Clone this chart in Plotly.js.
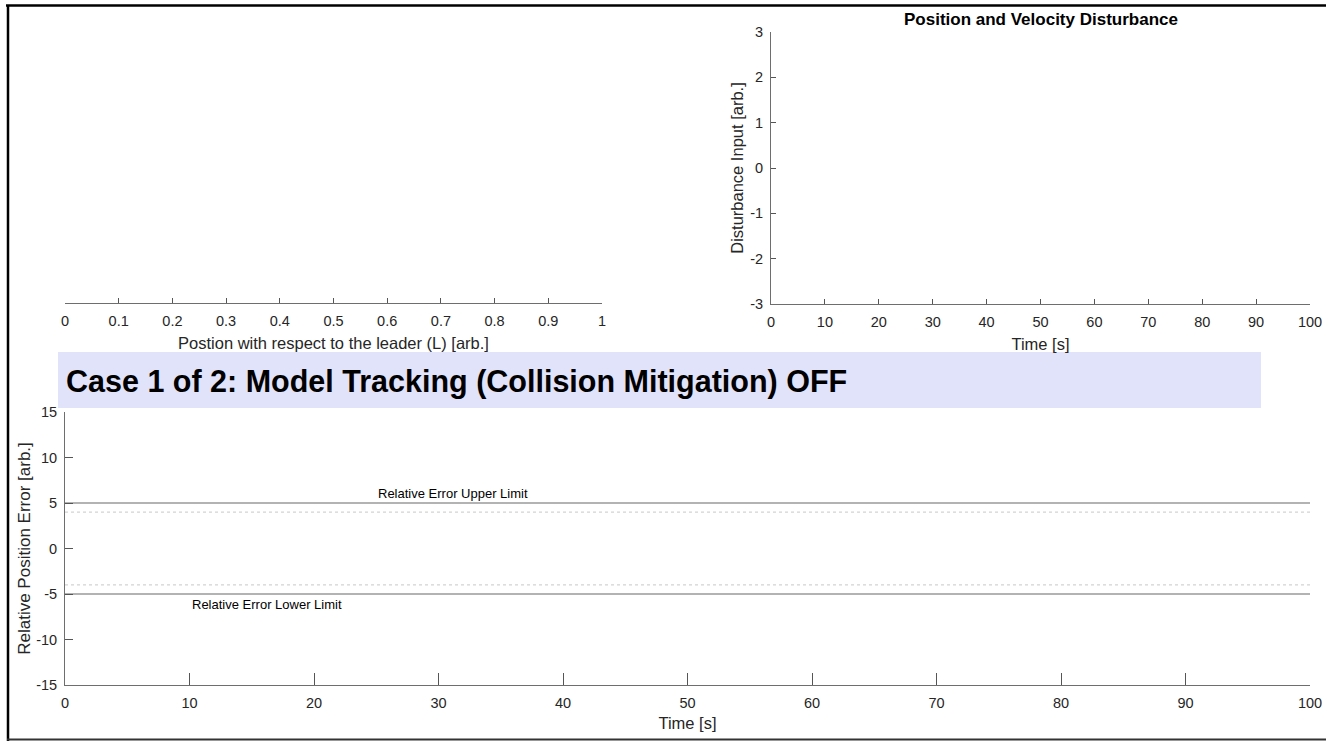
<!DOCTYPE html>
<html>
<head>
<meta charset="utf-8">
<script src="https://cdn.plot.ly/plotly-3.0.1.min.js"></script>
<style>html,body{margin:0;padding:0;background:#fff;}#chart{width:1326px;height:741px;}</style>
</head>
<body>
<div id="chart"></div>
<script>
// ---- data ----
const timeLimits = [0, 100];
const upperLimit = [5, 5];
const lowerLimit = [-5, -5];
const upperWarn = [4, 4];
const lowerWarn = [-4, -4];
const positionTicks = [0, 0.1, 0.2, 0.3, 0.4, 0.5, 0.6, 0.7, 0.8, 0.9, 1];
const timeTicks = [0, 10, 20, 30, 40, 50, 60, 70, 80, 90, 100];
const disturbanceTicks = [-3, -2, -1, 0, 1, 2, 3];
const errorTicks = [-15, -10, -5, 0, 5, 10, 15];

const W = 1326, H = 741;
const px = v => v / W;
const py = v => 1 - v / H;

const FONT = 'Liberation Sans, Arial, Helvetica, sans-serif';
const AX = '#6e6e6e';
const TXT = '#262626';
const TICKF = {family: FONT, size: 14.5, color: TXT};
const TITLEF = {family: FONT, size: 16.5, color: TXT};

const traces = [
  {x: [], y: [], xaxis: 'x', yaxis: 'y', type: 'scatter', mode: 'lines', showlegend: false},
  {x: [], y: [], xaxis: 'x2', yaxis: 'y2', type: 'scatter', mode: 'lines', showlegend: false},
  {x: timeLimits, y: upperLimit, xaxis: 'x3', yaxis: 'y3', type: 'scatter', mode: 'lines',
   line: {color: '#9a9a9a', width: 1.5}, showlegend: false, hoverinfo: 'skip'},
  {x: timeLimits, y: lowerLimit, xaxis: 'x3', yaxis: 'y3', type: 'scatter', mode: 'lines',
   line: {color: '#9a9a9a', width: 1.5}, showlegend: false, hoverinfo: 'skip'},
  {x: timeLimits, y: upperWarn, xaxis: 'x3', yaxis: 'y3', type: 'scatter', mode: 'lines',
   line: {color: '#c8c8c8', width: 1, dash: 'dot'}, showlegend: false, hoverinfo: 'skip'},
  {x: timeLimits, y: lowerWarn, xaxis: 'x3', yaxis: 'y3', type: 'scatter', mode: 'lines',
   line: {color: '#c8c8c8', width: 1, dash: 'dot'}, showlegend: false, hoverinfo: 'skip'}
];

const baseX = {
  showgrid: false, zeroline: false, showline: true, linecolor: AX, linewidth: 1,
  ticks: 'inside', tickcolor: '#555555', tickwidth: 1, ticklen: 5, mirror: false,
  tickfont: TICKF, fixedrange: true
};

const layout = {
  width: W, height: H,
  margin: {l: 0, r: 0, t: 0, b: 0},
  paper_bgcolor: '#ffffff', plot_bgcolor: 'rgba(0,0,0,0)',
  font: {family: FONT, color: TXT},
  showlegend: false,
  xaxis: Object.assign({}, baseX, {
    domain: [px(65), px(602)], range: [0, 1], anchor: 'y',
    tickvals: positionTicks, ticktext: positionTicks.map(String),
    ticklabelstandoff: 5,
    title: {text: 'Postion with respect to the leader (L) [arb.]', font: TITLEF, standoff: 9}
  }),
  yaxis: {domain: [py(303), py(32)], range: [0, 1], anchor: 'x', visible: false, fixedrange: true},
  xaxis2: Object.assign({}, baseX, {
    domain: [px(771), px(1310)], range: [0, 100], anchor: 'y2',
    tickvals: timeTicks, ticktext: timeTicks.map(String),
    ticklabelstandoff: 5,
    title: {text: 'Time [s]', font: TITLEF, standoff: 9}
  }),
  yaxis2: Object.assign({}, baseX, {
    domain: [py(304), py(32)], range: [-3, 3], anchor: 'x2',
    tickvals: disturbanceTicks, ticktext: disturbanceTicks.map(String),
    ticklabelstandoff: 4,
    title: {text: 'Disturbance Input [arb.]', font: TITLEF, standoff: 2}
  }),
  xaxis3: Object.assign({}, baseX, {
    domain: [px(65), px(1310)], range: [0, 100], anchor: 'y3', ticklen: 12,
    tickvals: timeTicks, ticktext: timeTicks.map(String),
    ticklabelstandoff: 5,
    title: {text: 'Time [s]', font: TITLEF, standoff: 7}
  }),
  yaxis3: Object.assign({}, baseX, {
    domain: [py(685), py(412)], range: [-15, 15], anchor: 'x3', ticklen: 8,
    tickvals: errorTicks, ticktext: errorTicks.map(String),
    ticklabelstandoff: 4,
    title: {text: 'Relative Position Error [arb.]', font: {family: FONT, size: 17, color: TXT}, standoff: 1}
  }),
  shapes: [
    {type: 'rect', xref: 'paper', yref: 'paper', x0: px(58), x1: px(1261), y0: py(408), y1: py(352),
     fillcolor: '#e1e3fa', line: {width: 0}, layer: 'below'},
    {type: 'line', xref: 'paper', yref: 'paper', x0: px(6), x1: 1, y0: py(5.5), y1: py(5.5),
     line: {color: '#000000', width: 2.5}},
    {type: 'line', xref: 'paper', yref: 'paper', x0: px(8), x1: px(8), y0: py(5), y1: 0,
     line: {color: '#000000', width: 2.5}},
    {type: 'line', xref: 'paper', yref: 'paper', x0: px(7), x1: 1, y0: py(739.5), y1: py(739.5),
     line: {color: '#333333', width: 2}}
  ],
  annotations: [
    {xref: 'paper', yref: 'paper', x: px(1041), y: py(19), xanchor: 'center', yanchor: 'middle',
     text: '<b>Position and Velocity Disturbance</b>', showarrow: false,
     font: {family: FONT, size: 17, color: '#000000'}},
    {xref: 'paper', yref: 'paper', x: px(64), y: py(381), xanchor: 'left', yanchor: 'middle',
     text: '<b>Case 1 of 2: Model Tracking (Collision Mitigation) OFF</b>', showarrow: false,
     font: {family: FONT, size: 30.5, color: '#000000'}},
    {xref: 'x3', yref: 'y3', x: 25, y: 5, xanchor: 'left', yanchor: 'bottom',
     text: 'Relative Error Upper Limit', showarrow: false, yshift: 0,
     font: {family: FONT, size: 13, color: '#000000'}},
    {xref: 'x3', yref: 'y3', x: 10, y: -5, xanchor: 'left', yanchor: 'top',
     text: 'Relative Error Lower Limit', showarrow: false, yshift: -1,
     font: {family: FONT, size: 13, color: '#000000'}}
  ]
};

Plotly.newPlot('chart', traces, layout, {staticPlot: true, displayModeBar: false});
</script>
</body>
</html>
